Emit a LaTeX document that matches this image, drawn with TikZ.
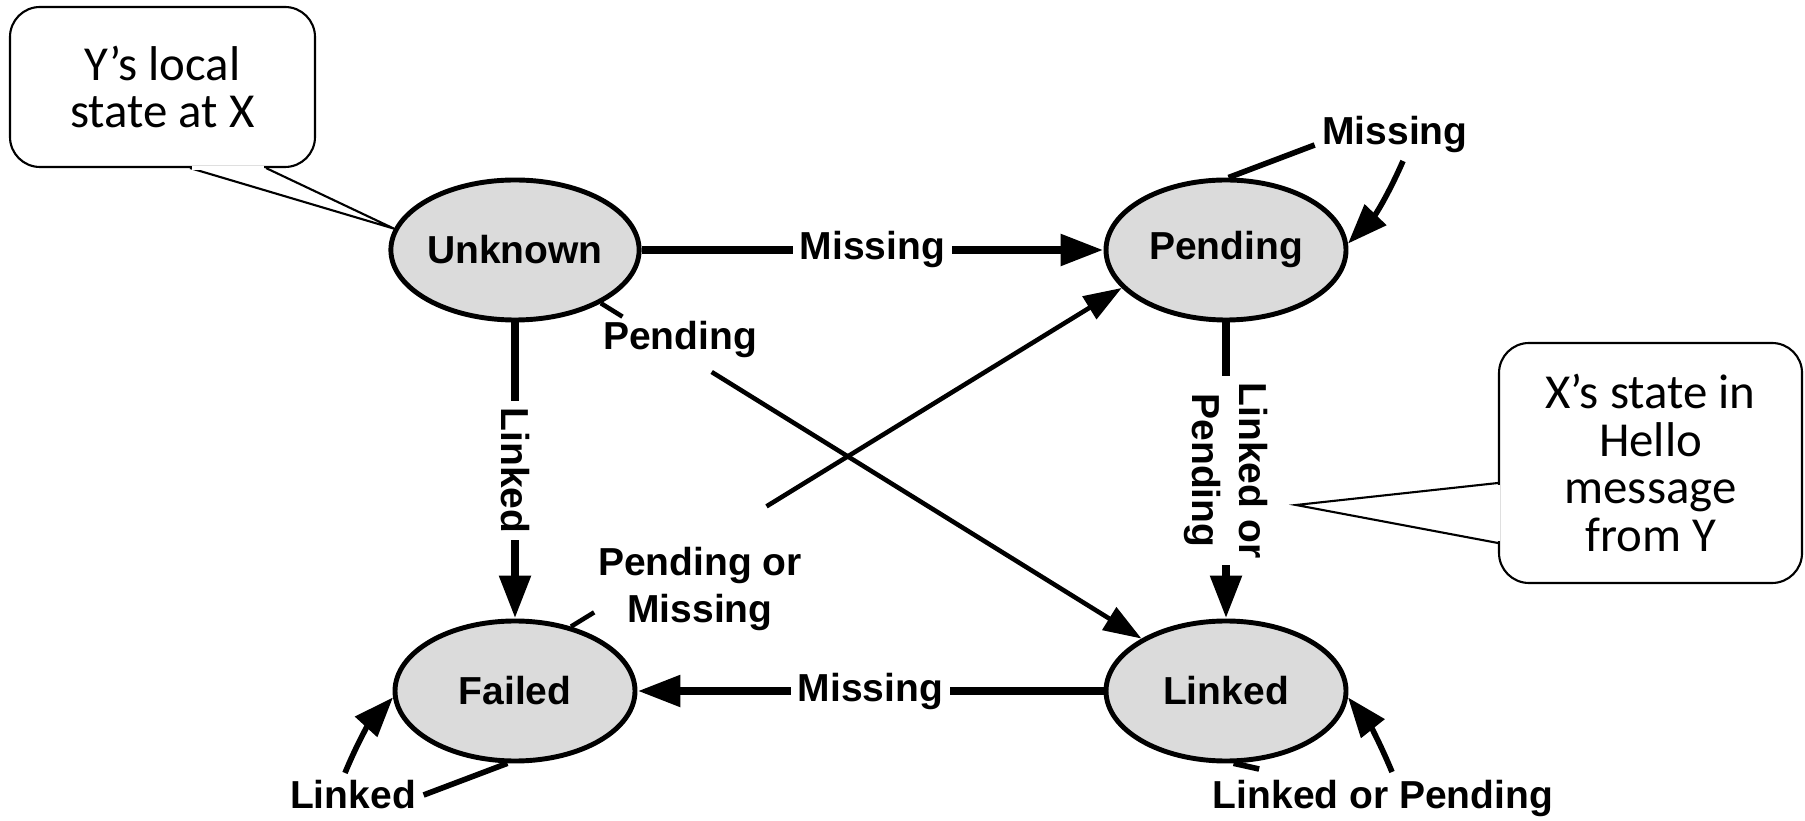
\documentclass[tikz,border=0pt]{standalone}
\usepackage{fontspec}
\setmainfont{Liberation Sans}
\newfontfamily\calloutfont{Carlito}
\usepackage{xcolor}
\colorlet{colorState}{black!14}
\colorlet{colorCallout}{black}
\usepackage{tikz}
\usetikzlibrary{arrows.meta, shapes.geometric, positioning}
\tikzset{
  ovalState/.style={ellipse, draw, fill=colorState, line width=1.4pt, minimum width=2.40cm, minimum height=1.40cm, inner sep=0pt, font=\bfseries\fontsize{11.1}{13.3}\selectfont},
  edgeLabel/.style={fill=white, inner sep=2pt, font=\bfseries\fontsize{11.1}{13.3}\selectfont},
  freeLabel/.style={inner sep=2pt, font=\bfseries\fontsize{11.1}{13.3}\selectfont},
  mainEdge/.style={line width=2.4pt},
  thinEdge/.style={line width=1.3pt, >={Triangle[length=0.38cm,width=0.26cm]}},
  loopEdge/.style={line width=1.6pt, >={Triangle[length=0.40cm,width=0.29cm]}},
  callout/.style={draw=colorCallout, fill=white, line width=0.6pt, rounded corners=0.3cm, align=center, inner sep=0pt, font=\calloutfont\fontsize{13.9}{13.6}\selectfont},
  calloutLine/.style={draw=colorCallout, line width=0.6pt, line join=miter}
}

\begin{document}
\begin{tikzpicture}[>={Triangle[length=0.43cm,width=0.30cm]}, node distance=7.11cm]
\useasboundingbox (0,0) rectangle (18.05,8.20);
% states
\node[ovalState] (q0) at (5.15,5.70) {Unknown};
\node[ovalState, right of=q0] (q1) {Pending};
\node[ovalState, below of=q0, node distance=4.41cm] (q2) {Failed};
\node[ovalState, right of=q2] (q3) {Linked};
% straight transitions
\draw [->, mainEdge] (q0) edge node [edgeLabel] {Missing} (q1);
\draw [->, mainEdge] (q3) edge node [edgeLabel] {Missing} (q2);
\draw [->, mainEdge] (q0) edge node [edgeLabel, rotate=-90] {Linked} (q2);
\draw [->, mainEdge] (q1) edge node [edgeLabel, rotate=-90, align=center] {Linked or\\Pending} (q3);
% crossing transitions
\path (q0) -- (q3) coordinate [pos=0.04] (g0) coordinate [pos=0.205] (g1);
\draw [thinEdge] (q0) -- (g0);
\draw [->, thinEdge] (g1) -- (q3);
\node [freeLabel] (lbPend) at (6.80,4.80) {Pending};
\path (q2.49) -- (q1.200) coordinate [pos=0.042] (g2) coordinate [pos=0.355] (g3);
\draw [thinEdge] (q2.49) -- (g2);
\draw [->, thinEdge] (g3) -- (q1.200);
\node [freeLabel, align=center] (lbPoM) at (7.00,2.31) {Pending or\\Missing};
% self loops
\node [freeLabel] (lbMiss) at (13.95,6.85) {Missing};
\draw [loopEdge] (q1.88) -- (lbMiss.base west);
\draw [->, loopEdge] ([xshift=0.08cm]lbMiss.south) to [bend left=10] (q1.3);
\node [freeLabel] (lbLoP) at (13.83,0.22) {Linked or Pending};
\draw [loopEdge] (q3.-84) -- ([xshift=0.54cm, yshift=0.03cm]lbLoP.north west);
\draw [->, loopEdge] ([xshift=0.09cm]lbLoP.north) to [bend right=8] (q3.-3);
\node [freeLabel] (lbLnk) at (3.53,0.25) {Linked};
\draw [loopEdge] (q2.-96) -- (lbLnk.east);
\draw [->, loopEdge] ([xshift=-0.08cm]lbLnk.north) to [bend left=10] (q2.183);
% callouts
\node [callout, minimum width=3.05cm, minimum height=1.60cm] (cY) at (1.625,7.33) {Y’s local\\state at X};
\draw [calloutLine] ([xshift=0.275cm]cY.south) -- (q0.170) -- ([xshift=1.035cm]cY.south);
\draw [white, line width=1.2pt, shorten <=0.5pt, shorten >=0.5pt] ([xshift=0.275cm]cY.south) -- ([xshift=1.035cm]cY.south);
\coordinate (tipX) at (12.96,3.15);
\node [callout, minimum width=3.03cm, minimum height=2.40cm] (cX) at (16.505,3.57) {X’s state in\\Hello\\message\\from Y};
\draw [calloutLine] ([yshift=-0.20cm]cX.west) -- (tipX) -- ([yshift=-0.80cm]cX.west);
\draw [white, line width=1.2pt, shorten <=0.5pt, shorten >=0.5pt] ([yshift=-0.20cm]cX.west) -- ([yshift=-0.80cm]cX.west);
\end{tikzpicture}
\end{document}
